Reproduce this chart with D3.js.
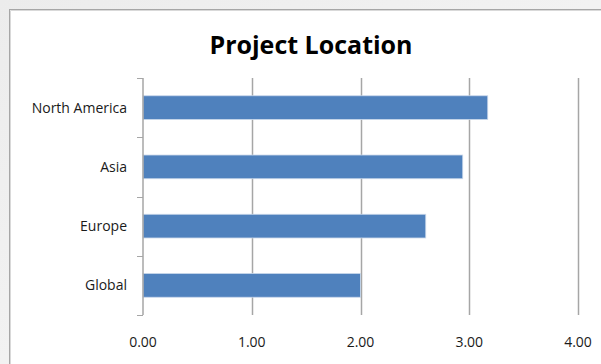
<!DOCTYPE html>
<html><head><meta charset="utf-8">
<script src="https://cdn.jsdelivr.net/npm/d3@7"></script>
<style>
html,body{margin:0;padding:0;background:#fff;}
svg{display:block;}
</style></head>
<body>
<script>
const categories = ["North America", "Asia", "Europe", "Global"];
const values = [3.17, 2.94, 2.60, 2.00];
const xTicks = [0, 1, 2, 3, 4];
const title = "Project Location";

const W = 601, H = 364;
const svg = d3.select("body").append("svg").attr("width", W).attr("height", H);

// outer background gradient
const defs = svg.append("defs");
const lg = defs.append("linearGradient").attr("id", "bg").attr("x1", 0).attr("y1", 0).attr("x2", 1).attr("y2", 1);
lg.append("stop").attr("offset", "0%").attr("stop-color", "#ececec");
lg.append("stop").attr("offset", "100%").attr("stop-color", "#f8f8f8");
svg.append("rect").attr("width", W).attr("height", H).attr("fill", "url(#bg)");

// chart area with border
svg.append("rect").attr("x", 9.5).attr("y", 9.5).attr("width", W + 20).attr("height", H + 20)
  .attr("fill", "#fff").attr("stroke", "#a6a6a6").attr("stroke-width", 1);
svg.append("line").attr("x1", 10.5).attr("x2", W).attr("y1", 10.5).attr("y2", 10.5).attr("stroke", "#d9d9d9");
svg.append("line").attr("x1", 10.5).attr("x2", 10.5).attr("y1", 10.5).attr("y2", H).attr("stroke", "#d9d9d9");

const pLeft = 143, pRight = 578, pTop = 78, pBottom = 315;
const x = d3.scaleLinear().domain([0, 4]).range([pLeft, pRight]);
const y = d3.scaleBand().domain(categories).range([pTop, pBottom]).paddingInner(0.6).paddingOuter(0.3);

// gridlines
svg.append("g").selectAll("line").data(xTicks.filter(d => d > 0)).join("line")
  .attr("x1", d => Math.round(x(d)) + 0.5).attr("x2", d => Math.round(x(d)) + 0.5)
  .attr("y1", pTop).attr("y2", pBottom)
  .attr("stroke", "#a6a6a6").attr("stroke-width", 1.5);

// bars
svg.append("g").selectAll("rect").data(categories).join("rect")
  .attr("x", x(0)).attr("y", d => y(d))
  .attr("width", (d, i) => x(values[i]) - x(0))
  .attr("height", y.bandwidth())
  .attr("fill", "#4f81bd").attr("stroke", "#c9d7ea").attr("stroke-width", 0.8);

// y axis line + ticks
const band = (pBottom - pTop) / categories.length;
svg.append("line").attr("x1", pLeft).attr("x2", pLeft).attr("y1", pTop).attr("y2", pBottom)
  .attr("stroke", "#a6a6a6").attr("stroke-width", 1.5);
const bounds = d3.range(categories.length + 1).map(i => pTop + i * band);
svg.append("g").selectAll("line").data(bounds).join("line")
  .attr("x1", pLeft - 6).attr("x2", pLeft).attr("y1", d => Math.round(d) + 0.5).attr("y2", d => Math.round(d) + 0.5)
  .attr("stroke", "#a6a6a6").attr("stroke-width", 1);

const font = "'Open Sans', 'Noto Sans', sans-serif";
// category labels
svg.append("g").selectAll("text").data(categories).join("text")
  .attr("x", 127).attr("y", d => y(d) + y.bandwidth() / 2)
  .attr("dy", "0.35em").attr("text-anchor", "end")
  .attr("font-family", font).attr("font-size", 14).attr("fill", "#1a1a1a")
  .text(d => d);

// x tick labels
svg.append("g").selectAll("text").data(xTicks).join("text")
  .attr("x", d => x(d)).attr("y", 347)
  .attr("text-anchor", "middle")
  .attr("font-family", font).attr("font-size", 14).attr("fill", "#1a1a1a")
  .text(d => d3.format(".2f")(d));

// title
svg.append("text").attr("x", 311).attr("y", 54)
  .attr("text-anchor", "middle")
  .attr("font-family", font).attr("font-weight", "bold").attr("font-size", 25)
  .attr("fill", "#000").text(title);
</script>
</body></html>
